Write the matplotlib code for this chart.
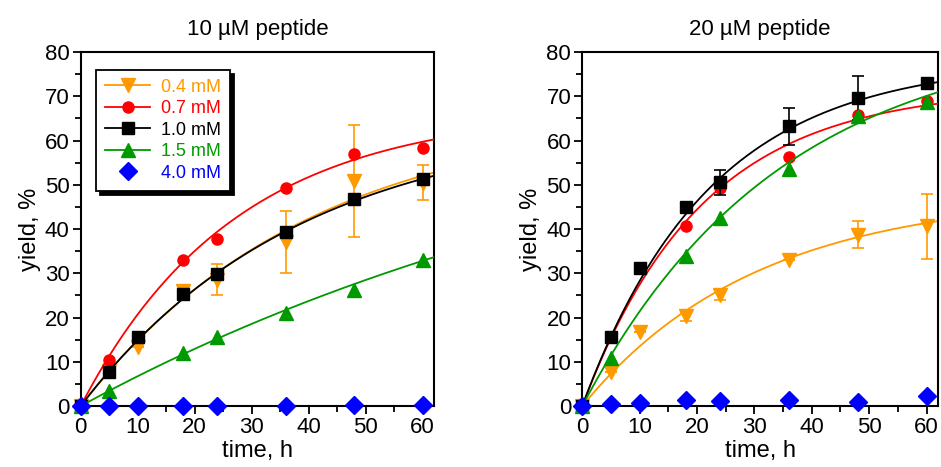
import numpy as np
import matplotlib.pyplot as plt
from matplotlib.ticker import MultipleLocator

plt.rcParams["font.family"] = ["Liberation Sans", "DejaVu Sans"]

# %%
### Data ######################################################################
time_h = [0, 5, 10, 18, 24, 36, 48, 60]
labels = ["0.4 mM", "0.7 mM", "1.0 mM", "1.5 mM", "4.0 mM"]
colors = ["#ff9900", "#ff0000", "#000000", "#009900", "#0000ff"]
markers = ["v", "o", "s", "^", "D"]
msizes = [10, 8, 9, 10, 9]
nan = np.nan

# 10 uM peptide
y10_04 = [0, 8.0, 13.4, 26.0, 28.5, 37.0, 50.8, 50.5]
e10_04 = [0, 0, 0, 1.0, 3.5, 7.0, 12.6, 4.0]
y10_07 = [0, 10.4, 15.5, 33.0, 37.8, 49.3, 57.0, 58.2]
y10_10 = [0, 7.6, 15.6, 25.4, 29.9, 39.4, 46.8, 51.2]
y10_15 = [0, 3.4, nan, 11.9, 15.7, 21.0, 26.3, 33.1]
y10_40 = [0, 0, 0, 0.1, 0.1, 0.1, 0.3, 0.2]

# 20 uM peptide
y20_04 = [0, 7.6, 16.8, 20.3, 25.2, 33.0, 38.7, 40.6]
e20_04 = [0, 0, 0, 1.0, 1.2, 0, 3.0, 7.3]
y20_07 = [0, 15.5, nan, 40.6, 49.3, 56.2, 65.8, 69.0]
y20_10 = [0, 15.6, 31.3, 44.9, 50.6, 63.2, 69.6, 72.9]
e20_10 = [0, 0, 0, 0, 2.8, 4.2, 5.0, 0.8]
y20_15 = [0, 10.9, nan, 33.9, 42.6, 53.6, 65.6, 68.8]
y20_40 = [0, 0.4, 0.6, 1.4, 1.1, 1.3, 1.0, 2.2]

# first-order fit curves y = A (1 - exp(-k t)), parameters
fit10_A = [67, 67, 65, 80]
fit10_k = [0.025, 0.037, 0.026, 0.0088]
fit20_A = [48, 72, 78, 85]
fit20_k = [0.033, 0.048, 0.045, 0.029]

# %%
### Plot ######################################################################
fig = plt.figure(figsize=(9.41, 4.67), dpi=100)
ax1 = fig.add_axes([0.0858, 0.1306, 0.3754, 0.758])
ax2 = fig.add_axes([0.6188, 0.1306, 0.3780, 0.758])

t_fit = np.linspace(0, 62, 300)


def draw_panel(ax, ys, errs, fit_A, fit_k, title):
    handles = []
    for i, (y, c, m, ms) in enumerate(zip(ys, colors, markers, msizes)):
        if i < 4:
            ax.plot(t_fit, fit_A[i] * (1 - np.exp(-fit_k[i] * t_fit)),
                    color=c, lw=1.3, zorder=2 + i)
        if errs[i] is not None:
            ax.errorbar(time_h, y, yerr=errs[i], fmt="none", ecolor=c,
                        elinewidth=1.2, capsize=4, capthick=1.2, zorder=2 + i)
        ax.plot(time_h, y, ls="none", marker=m, ms=ms, color=c,
                mec=c, zorder=3 + i, clip_on=False)
        h, = ax.plot([], [], color=c, lw=1.3 if i < 4 else 0, marker=m,
                     ms=ms, label=labels[i])
        handles.append(h)
    ax.set_xlim(0, 62)
    ax.set_ylim(0, 80)
    ax.xaxis.set_major_locator(MultipleLocator(10))
    ax.xaxis.set_minor_locator(MultipleLocator(5))
    ax.yaxis.set_major_locator(MultipleLocator(10))
    ax.yaxis.set_minor_locator(MultipleLocator(5))
    ax.tick_params(which="both", direction="out", width=1.3, labelsize=16,
                   top=False, right=False)
    ax.tick_params(which="major", length=6, pad=2)
    ax.tick_params(which="minor", length=4)
    for sp in ax.spines.values():
        sp.set_linewidth(1.5)
    ax.set_xlabel("time, h", fontsize=17, labelpad=1)
    ax.set_ylabel("yield, %", fontsize=17, labelpad=3)
    ax.set_title(title, fontsize=16, pad=12)
    return handles


h1 = draw_panel(ax1, [y10_04, y10_07, y10_10, y10_15, y10_40],
                [e10_04, None, None, None, None], fit10_A, fit10_k,
                "10 µM peptide")
draw_panel(ax2, [y20_04, y20_07, y20_10, y20_15, y20_40],
           [e20_04, None, e20_10, None, None], fit20_A, fit20_k,
           "20 µM peptide")

leg = ax1.legend(handles=h1, loc="upper left", bbox_to_anchor=(0.043, 0.95),
                 borderaxespad=0, fontsize=13, frameon=True, fancybox=False,
                 shadow={"color": "black", "alpha": 1, "ox": 3, "oy": -3},
                 handlelength=2.5, handletextpad=0.6, labelspacing=0.25,
                 borderpad=0.5, edgecolor="black")
leg.get_frame().set_linewidth(1.3)
for txt, c in zip(leg.get_texts(), colors):
    txt.set_color(c)

fig.savefig("out.png", dpi=100)
